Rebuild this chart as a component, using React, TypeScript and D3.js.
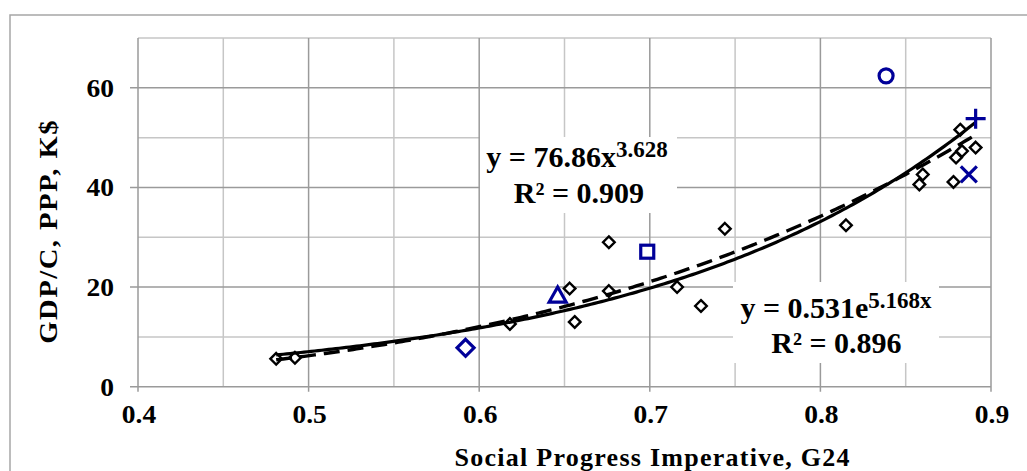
import React from "react";
import * as d3 from "d3";

// ---- data ----
const blackX = [0.481, 0.492, 0.618, 0.653, 0.656, 0.676, 0.676, 0.716, 0.730, 0.744, 0.815, 0.858, 0.860, 0.878, 0.8795, 0.882, 0.883, 0.891];
const blackY = [5.6, 5.8, 12.6, 19.7, 13.0, 29.0, 19.2, 20.0, 16.2, 31.7, 32.4, 40.6, 42.6, 41.1, 46.0, 51.6, 47.3, 48.0];

const specialNames = ["diamond", "triangle", "square", "circle", "plus", "cross"];
const specialX = [0.592, 0.646, 0.6985, 0.8385, 0.891, 0.887];
const specialY = [7.8, 18.2, 27.1, 62.4, 53.8, 42.6];

// trendline coefficients (from the chart's equations)
const powerCoef = [76.86, 3.628];
const expCoef = [0.531, 5.168];
const fitRange = [0.481, 0.891];

const xTicks = [0.4, 0.5, 0.6, 0.7, 0.8, 0.9];
const xTickLabels = ["0.4", "0.5", "0.6", "0.7", "0.8", "0.9"];
const xMinor = [0.45, 0.55, 0.65, 0.75, 0.85];
const yTicks = [0, 20, 40, 60];
const yTickLabels = ["0", "20", "40", "60"];
const yMinor = [10, 30, 50, 70];

const BLUE = "#000099";
const FONT = "'Liberation Serif', 'Times New Roman', serif";

export default function App() {
  const x = d3.scaleLinear().domain([0.4, 0.9]).range([138, 991]);
  const y = d3.scaleLinear().domain([0, 70]).range([386.7, 38]);

  const samples = d3.range(0, 201).map((i) => fitRange[0] + ((fitRange[1] - fitRange[0]) * i) / 200);
  const line = d3
    .line<number[]>()
    .x((d) => x(d[0]))
    .y((d) => y(d[1]))
    .curve(d3.curveLinear);
  const powerPath = line(samples.map((v) => [v, powerCoef[0] * Math.pow(v, powerCoef[1])])) || "";
  const expPath = line(samples.map((v) => [v, expCoef[0] * Math.exp(expCoef[1] * v)])) || "";

  const diamond = (cx: number, cy: number, r: number) =>
    `M${cx},${cy - r}L${cx + r},${cy}L${cx},${cy + r}L${cx - r},${cy}Z`;

  const renderSpecial = (name: string, cx: number, cy: number, i: number) => {
    const common = { fill: "none", stroke: BLUE, strokeWidth: 3.2 };
    switch (name) {
      case "diamond":
        return <path key={i} d={diamond(cx, cy, 8.5)} {...common} fill="white" />;
      case "triangle":
        return (
          <path
            key={i}
            d={`M${cx},${cy - 9}L${cx + 8.5},${cy + 6}L${cx - 8.5},${cy + 6}Z`}
            {...common}
            fill="white"
          />
        );
      case "square":
        return <rect key={i} x={cx - 6.5} y={cy - 6.5} width={13} height={13} {...common} fill="white" />;
      case "circle":
        return <circle key={i} cx={cx} cy={cy} r={7} {...common} fill="white" />;
      case "plus":
        return <path key={i} d={`M${cx - 10},${cy}H${cx + 10}M${cx},${cy - 10}V${cy + 10}`} {...common} />;
      case "cross":
        return (
          <path
            key={i}
            d={`M${cx - 8},${cy - 8}L${cx + 8},${cy + 8}M${cx - 8},${cy + 8}L${cx + 8},${cy - 8}`}
            {...common}
          />
        );
      default:
        return null;
    }
  };

  return (
    <svg
      width={1027}
      height={471}
      style={{ position: "absolute", left: 0, top: 0, background: "white" }}
      fontFamily={FONT}
    >
      {/* outer frame */}
      <path d="M10,471V15H1027" fill="none" stroke="#a6a6a6" strokeWidth={1.5} />

      {/* minor grid */}
      {xMinor.map((v) => (
        <line key={"xm" + v} x1={x(v)} x2={x(v)} y1={y(70)} y2={y(0)} stroke="#c6c6c6" strokeWidth={1.5} />
      ))}
      {yMinor.map((v) => (
        <line key={"ym" + v} x1={x(0.4)} x2={x(0.9)} y1={y(v)} y2={y(v)} stroke="#c6c6c6" strokeWidth={1.5} />
      ))}
      {/* major grid */}
      {xTicks.map((v) => (
        <line key={"xg" + v} x1={x(v)} x2={x(v)} y1={y(70)} y2={y(0) + 5} stroke="#9a9a9a" strokeWidth={1.5} />
      ))}
      {yTicks.map((v) => (
        <line key={"yg" + v} x1={x(0.4) - 8} x2={x(0.9)} y1={y(v)} y2={y(v)} stroke="#9a9a9a" strokeWidth={1.5} />
      ))}

      {/* tick labels */}
      {yTicks.map((v, i) => (
        <text
          key={"yl" + v}
          transform={`translate(114,${y(v) + 9}) scale(1.1,1)`}
          textAnchor="end"
          fontSize={25}
          fontWeight="bold"
          fill="#000"
        >
          {yTickLabels[i]}
        </text>
      ))}
      {xTicks.map((v, i) => (
        <text
          key={"xl" + v}
          transform={`translate(${x(v) + 1},423) scale(1.1,1)`}
          textAnchor="middle"
          fontSize={25}
          fontWeight="bold"
          fill="#000"
        >
          {xTickLabels[i]}
        </text>
      ))}

      {/* axis titles */}
      <text
        x={652}
        y={466}
        textAnchor="middle"
        fontSize={26}
        fontWeight="bold"
        textLength={395}
        lengthAdjust="spacing"
      >
        Social Progress Imperative, G24
      </text>
      <text
        transform="translate(57,232) rotate(-90) scale(1.1,1)"
        textAnchor="middle"
        fontSize={26}
        fontWeight="bold"
        textLength={203}
        lengthAdjust="spacing"
      >
        GDP/C, PPP, K$
      </text>

      {/* equation boxes */}
      <rect x={480} y={137} width={197} height={76} fill="white" />
      <rect x={733} y={282} width={206} height={81} fill="white" />
      <text x={577} y={167} textAnchor="middle" fontSize={30} fontWeight="bold">
        y = 76.86x
        <tspan fontSize={23} dy={-10}>3.628</tspan>
      </text>
      <text x={579} y={203} textAnchor="middle" fontSize={30} fontWeight="bold">
        R² = 0.909
      </text>
      <text x={836} y={318} textAnchor="middle" fontSize={30} fontWeight="bold">
        y = 0.531e
        <tspan fontSize={23} dy={-10}>5.168x</tspan>
      </text>
      <text x={836.5} y={353} textAnchor="middle" fontSize={30} fontWeight="bold">
        R² = 0.896
      </text>

      {/* black diamonds */}
      {blackX.map((v, i) => (
        <path
          key={"b" + i}
          d={diamond(x(v), y(blackY[i]), 5.8)}
          fill="white"
          stroke="#000"
          strokeWidth={2.4}
        />
      ))}

      {/* trendlines: power = dashed, exponential = solid */}
      <path d={powerPath} fill="none" stroke="#000" strokeWidth={3.4} strokeDasharray="16 8" />
      <path d={expPath} fill="none" stroke="#000" strokeWidth={3.2} />

      {/* special markers */}
      {specialNames.map((n, i) => renderSpecial(n, x(specialX[i]), y(specialY[i]), i))}
    </svg>
  );
}
